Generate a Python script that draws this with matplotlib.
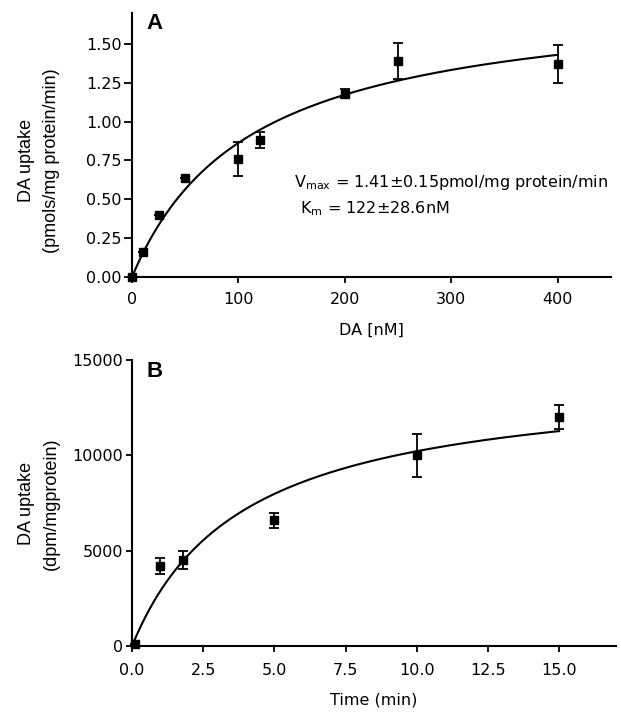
import matplotlib.pyplot as plt
import numpy as np

plt.rcParams['font.family'] = ['DejaVu Sans']
plt.rcParams['mathtext.fontset'] = 'dejavusans'

# panel A - concentration series
conc = [0, 10, 25, 50, 100, 120, 200, 250, 400]
uptake_a = [0.0, 0.16, 0.40, 0.64, 0.76, 0.88, 1.18, 1.39, 1.37]
err_a = [0.0, 0.0, 0.0, 0.0, 0.11, 0.05, 0.03, 0.115, 0.12]
fit_a = (1.83, 112.0)   # vmax, km of the drawn curve

# panel B - time course
time_b = [0.1, 1.0, 1.8, 5.0, 10.0, 15.0]
uptake_b = [100, 4200, 4500, 6600, 10000, 12000]
err_b = [0, 400, 480, 400, 1130, 630]
fit_b = (14200.0, 3.9)

fig = plt.figure(figsize=(6.21, 7.12), dpi=100)
axA = fig.add_axes([0.2126, 0.611, 0.7713, 0.371])
axB = fig.add_axes([0.2126, 0.0927, 0.7794, 0.4017])

ylab_font = dict(family='Liberation Sans', size=13, linespacing=1.6)

def style(ax, ylen, ypad, xpad):
    for s in ['top', 'right']:
        ax.spines[s].set_visible(False)
    for s in ['left', 'bottom']:
        ax.spines[s].set_linewidth(1.5)
    ax.tick_params(direction='out', width=1.3, labelsize=11.5)
    ax.tick_params(axis='y', length=ylen, pad=ypad)
    ax.tick_params(axis='x', length=4, pad=xpad)

# A
xs = np.linspace(0, 400, 300)
axA.plot(xs, fit_a[0]*xs/(fit_a[1]+xs), color='black', lw=1.5)
axA.errorbar(conc, uptake_a, yerr=err_a, fmt='s', color='black', ms=6,
             capsize=3.5, elinewidth=1.3, capthick=1.3, clip_on=False)
axA.set_xlim(0, 450)
axA.set_ylim(0, 1.70)
axA.set_xticks([0, 100, 200, 300, 400])
axA.set_yticks([0, 0.25, 0.5, 0.75, 1.0, 1.25, 1.5])
axA.set_yticklabels(['0.00', '0.25', '0.50', '0.75', '1.00', '1.25', '1.50'])
axA.set_xlabel('DA [nM]', fontsize=11.5)
axA.xaxis.set_label_coords(0.5, -0.172)
axA.set_ylabel('DA uptake\n(pmols/mg protein/min)', **ylab_font)
axA.yaxis.set_label_coords(-0.150, 0.44)
axA.text(152, 0.605, r'V$_{\rm max}$ = 1.41±0.15pmol/mg protein/min', fontsize=11.5, va='center')
axA.text(158, 0.44, r'K$_{\rm m}$ = 122±28.6nM', fontsize=11.5, va='center')
axA.text(0.03, 1.0, 'A', transform=axA.transAxes, fontsize=16, fontweight='bold',
         va='top', family='Liberation Sans')
style(axA, 6, 1.5, 7)

# B
ts = np.linspace(0, 15, 300)
axB.plot(ts, fit_b[0]*ts/(fit_b[1]+ts), color='black', lw=1.5)
axB.errorbar(time_b, uptake_b, yerr=err_b, fmt='s', color='black', ms=6,
             capsize=3.5, elinewidth=1.3, capthick=1.3, clip_on=False)
axB.set_xlim(0, 17)
axB.set_ylim(0, 15000)
axB.set_xticks([0, 2.5, 5, 7.5, 10, 12.5, 15])
axB.set_xticklabels(['0.0', '2.5', '5.0', '7.5', '10.0', '12.5', '15.0'])
axB.set_yticks([0, 5000, 10000, 15000])
axB.set_xlabel('Time (min)', fontsize=11.5)
axB.xaxis.set_label_coords(0.5, -0.164)
axB.set_ylabel('DA uptake\n(dpm/mgprotein)', **ylab_font)
axB.yaxis.set_label_coords(-0.149, 0.497)
axB.text(0.03, 0.995, 'B', transform=axB.transAxes, fontsize=16, fontweight='bold',
         va='top', family='Liberation Sans')
style(axB, 4, 2.5, 8.5)

fig.savefig('out.png', dpi=100)
